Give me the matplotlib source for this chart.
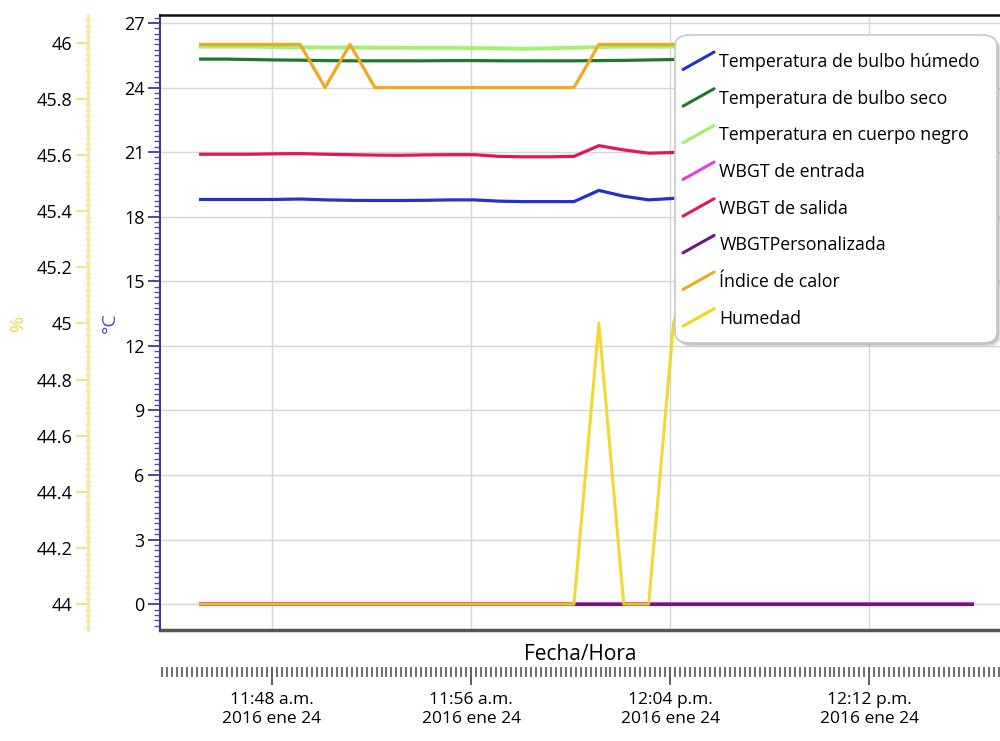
import numpy as np
import pandas as pd
import matplotlib
matplotlib.use("Agg")
import matplotlib.pyplot as plt
import matplotlib.dates as mdates
from matplotlib.ticker import MultipleLocator, FixedLocator, FuncFormatter
from matplotlib.legend_handler import HandlerBase
from matplotlib.lines import Line2D
from matplotlib.patches import FancyBboxPatch

plt.rcParams['font.family'] = ['Open Sans', 'DejaVu Sans']

# one reading per minute
times = pd.date_range("2016-01-24 11:45:08", periods=32, freq="1min")

bulbo_humedo = [18.8, 18.8, 18.8, 18.8, 18.82, 18.78, 18.76, 18.75, 18.75, 18.76,
                18.78, 18.78, 18.72, 18.7, 18.7, 18.7, 19.22, 18.95, 18.78, 18.85,
                18.85, 18.8, 18.8, 18.82, 18.85, 18.8, 18.8, 18.78, 18.8, 18.82, 18.8, 18.8]
bulbo_seco = [25.32, 25.32, 25.3, 25.28, 25.27, 25.25, 25.24, 25.24, 25.24, 25.24,
              25.25, 25.25, 25.24, 25.24, 25.24, 25.24, 25.25, 25.26, 25.28, 25.3,
              25.3, 25.3, 25.3, 25.3, 25.3, 25.3, 25.3, 25.3, 25.3, 25.3, 25.3, 25.3]
cuerpo_negro = [25.9, 25.9, 25.9, 25.88, 25.87, 25.86, 25.86, 25.85, 25.85, 25.84,
                25.84, 25.83, 25.82, 25.8, 25.82, 25.85, 25.88, 25.9, 25.9, 25.9,
                25.9, 25.9, 25.9, 25.9, 25.9, 25.9, 25.9, 25.9, 25.9, 25.9, 25.9, 25.9]
wbgt_salida = [20.9, 20.9, 20.9, 20.92, 20.93, 20.9, 20.88, 20.86, 20.85, 20.87,
               20.88, 20.88, 20.8, 20.78, 20.78, 20.8, 21.3, 21.1, 20.95, 20.98,
               20.98, 20.95, 20.95, 20.96, 20.98, 20.95, 20.95, 20.94, 20.95, 20.96, 20.95, 20.95]
wbgt_entrada = [0] * 32
wbgt_personal = [0] * 32
indice_calor = [26, 26, 26, 26, 26, 24, 26, 24, 24, 24,
                24, 24, 24, 24, 24, 24, 26, 26, 26, 26,
                26, 26, 26, 26, 26, 26, 26, 26, 26, 26, 26, 26]
humedad = [44, 44, 44, 44, 44, 44, 44, 44, 44, 44,
           44, 44, 44, 44, 44, 44, 45.0, 44, 44, 45.0,
           45.3, 45.3, 45.3, 45.3, 45.3, 45.3, 45.3, 45.3, 45.3, 45.3, 45.3, 45.3]

major_times = pd.to_datetime(["2016-01-24 11:48", "2016-01-24 11:56",
                              "2016-01-24 12:04", "2016-01-24 12:12"])
meses = ["ene", "feb", "mar", "abr", "may", "jun", "jul", "ago", "sep", "oct", "nov", "dic"]


def fmt_time(x, pos=None):
    d = mdates.num2date(x)
    h = d.hour % 12 or 12
    suf = "a.m." if d.hour < 12 else "p.m."
    return "{}:{:02d} {}\n{} {} {}".format(h, d.minute, suf, d.year, meses[d.month - 1], d.day)


class SlantHandler(HandlerBase):
    def create_artists(self, legend, orig_handle, xdescent, ydescent, width, height, fontsize, trans):
        x0, y0 = -xdescent, -ydescent - 0.2 * height
        ln = Line2D([x0, x0 + width], [y0, y0 + 1.4 * height], color=orig_handle.get_color(),
                    lw=2.2, transform=trans, solid_capstyle="round")
        return [ln]


W, H = 1000, 741
fig = plt.figure(figsize=(10, 7.41), dpi=100)
ax = fig.add_axes([0.16, 0.1498, 0.84, 0.83])

lw = 2.3
ax.plot(times, wbgt_entrada, color="#e040e0", lw=3.0, label="WBGT de entrada")
ax.plot(times, wbgt_personal, color="#6a1a80", lw=2.2, label="WBGTPersonalizada")
ax.plot(times, bulbo_humedo, color="#2430d0", lw=lw, label="Temperatura de bulbo húmedo")
ax.plot(times, bulbo_seco, color="#1c7a2a", lw=lw, label="Temperatura de bulbo seco")
ax.plot(times, cuerpo_negro, color="#a4f070", lw=lw + 0.5, label="Temperatura en cuerpo negro")
ax.plot(times, wbgt_salida, color="#e01a50", lw=lw, label="WBGT de salida")
ax.plot(times, indice_calor, color="#f0a820", lw=lw, label="Índice de calor")

ax.set_ylim(-1.2, 27.37)
ax.set_xlim(pd.Timestamp("2016-01-24 11:43:30"), pd.Timestamp("2016-01-24 12:17:15"))

ax.yaxis.set_major_locator(MultipleLocator(3))
ax.yaxis.set_minor_locator(MultipleLocator(0.25))
ax.tick_params(axis="y", which="major", length=9, width=1.3, color="#3c3ca0", labelsize=13, pad=2)
ax.tick_params(axis="y", which="minor", length=4, width=1, color="#5050b0")
ax.set_ylabel("°C", color="#4a4ad0", fontsize=14, labelpad=4)

ax.xaxis.set_major_locator(FixedLocator(mdates.date2num(major_times)))
ax.xaxis.set_minor_locator(mdates.SecondLocator(bysecond=range(0, 60, 12)))
ax.xaxis.set_major_formatter(FuncFormatter(fmt_time))
ax.tick_params(axis="x", which="major", length=13, width=1.2, color="#444444", labelsize=12.5, pad=5)
ax.tick_params(axis="x", which="minor", length=7, width=1.2, color="#555555")
for t in ax.get_xticklabels():
    t.set_linespacing(1.8)
ax.set_xlabel("Fecha/Hora", fontsize=15)
ax.xaxis.set_label_coords(0.5, -0.022)

ax.grid(True, which="major", color="#d6d6d6", lw=1)
ax.spines["bottom"].set_position(("outward", 27))
ax.spines["bottom"].set_visible(False)
ax.spines["right"].set_visible(False)
ax.spines["top"].set_color("#111111")
ax.spines["top"].set_linewidth(1.8)
ax.spines["left"].set_color("#3c3c8c")
ax.spines["left"].set_linewidth(1.5)
ax.plot([0, 1], [0, 0], transform=ax.transAxes, color="#555555", lw=2.5, clip_on=False)

# humidity axis on the left
ax2 = ax.twinx()
ax2.plot(times, humedad, color="#f2d418", lw=2.2, alpha=0.9, label="Humedad")
c_to_pct = 2 / 26.09
ax2.set_ylim(44 + ax.get_ylim()[0] * c_to_pct, 44 + ax.get_ylim()[1] * c_to_pct)
ax2.yaxis.tick_left()
ax2.yaxis.set_label_position("left")
ax2.spines["left"].set_position(("outward", 52))
ax2.spines["left"].set_color("#f3eaa0")
ax2.spines["left"].set_linewidth(2)
for s in ["right", "top", "bottom"]:
    ax2.spines[s].set_visible(False)
ax2.yaxis.set_major_locator(FixedLocator([44, 44.2, 44.4, 44.6, 44.8, 45, 45.2, 45.4, 45.6, 45.8, 46]))
ax2.yaxis.set_major_formatter(FuncFormatter(lambda v, p: "{:g}".format(round(v, 1))))
ax2.yaxis.set_minor_locator(MultipleLocator(0.02))
ax2.tick_params(axis="y", which="major", length=9, width=1.3, color="#f0e070", labelsize=13, pad=2)
ax2.tick_params(axis="y", which="minor", length=5, width=1, color="#f3e890", direction="inout")
ax2.set_ylabel("%", color="#ecd850", fontsize=14, labelpad=7)

# legend box with soft shadow, drawn by hand so its padding matches
bx0, by0, bx1, by1 = 675, 35, 997, 343
for off, a in [(4, 0.12), (3, 0.18), (2, 0.25)]:
    ax2.add_patch(FancyBboxPatch(((bx0 + off) / W, 1 - (by1 + off) / H), (bx1 - bx0) / W, (by1 - by0) / H,
                                 boxstyle="round,pad=0,rounding_size=0.015", transform=fig.transFigure,
                                 facecolor="#808080", edgecolor="none", alpha=a, zorder=8, clip_on=False))
ax2.add_patch(FancyBboxPatch((bx0 / W, 1 - by1 / H), (bx1 - bx0) / W, (by1 - by0) / H,
                             boxstyle="round,pad=0,rounding_size=0.015", transform=fig.transFigure,
                             facecolor="white", edgecolor="#c8c8c8", lw=1.2, zorder=9, clip_on=False))

handles = [l for l in ax.get_lines() if not l.get_label().startswith("_")]
order = ["Temperatura de bulbo húmedo", "Temperatura de bulbo seco", "Temperatura en cuerpo negro",
         "WBGT de entrada", "WBGT de salida", "WBGTPersonalizada", "Índice de calor"]
handles = [next(h for h in handles if h.get_label() == n) for n in order] + ax2.get_lines()
leg = ax2.legend(handles=handles, labels=[h.get_label() for h in handles],
                 loc="upper left", bbox_to_anchor=(683 / W, 1 - 53 / H), bbox_transform=fig.transFigure,
                 borderaxespad=0, fontsize=12.8, handlelength=1.75, handletextpad=0.3,
                 labelspacing=1.05, borderpad=0, frameon=False,
                 handler_map={Line2D: SlantHandler()})
leg.set_zorder(10)

fig.savefig("out.png", dpi=100)
